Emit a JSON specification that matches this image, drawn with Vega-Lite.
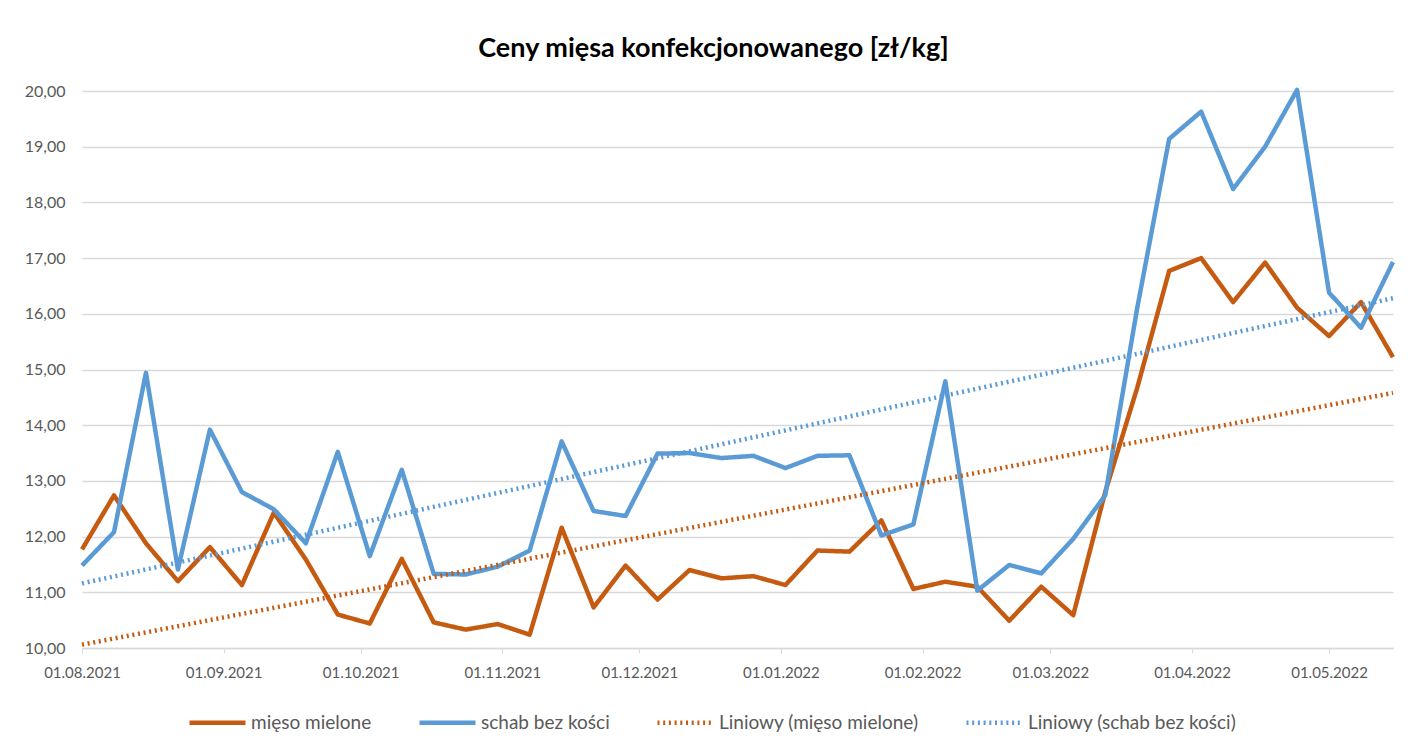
{
  "$schema": "https://vega.github.io/schema/vega-lite/v6.json",
  "autosize": {"type": "none"},
  "width": 1311,
  "height": 557,
  "padding": {"left": 82, "top": 91, "right": 29, "bottom": 97},
  "background": "white",
  "title": {"text": "Ceny mięsa konfekcjonowanego [zł/kg]", "fontSize": 27, "font": "Lato", "fontWeight": "bold", "color": "#000000", "anchor": "middle", "offset": 20, "dx": -24},
  "data": {"values": [
    {"date": "2021/08/01", "series": "mięso mielone", "value": 11.77},
    {"date": "2021/08/08", "series": "mięso mielone", "value": 12.74},
    {"date": "2021/08/15", "series": "mięso mielone", "value": 11.88},
    {"date": "2021/08/22", "series": "mięso mielone", "value": 11.20},
    {"date": "2021/08/29", "series": "mięso mielone", "value": 11.81},
    {"date": "2021/09/05", "series": "mięso mielone", "value": 11.13},
    {"date": "2021/09/12", "series": "mięso mielone", "value": 12.43},
    {"date": "2021/09/19", "series": "mięso mielone", "value": 11.59},
    {"date": "2021/09/26", "series": "mięso mielone", "value": 10.60},
    {"date": "2021/10/03", "series": "mięso mielone", "value": 10.44},
    {"date": "2021/10/10", "series": "mięso mielone", "value": 11.60},
    {"date": "2021/10/17", "series": "mięso mielone", "value": 10.46},
    {"date": "2021/10/24", "series": "mięso mielone", "value": 10.33},
    {"date": "2021/10/31", "series": "mięso mielone", "value": 10.43},
    {"date": "2021/11/07", "series": "mięso mielone", "value": 10.24},
    {"date": "2021/11/14", "series": "mięso mielone", "value": 12.16},
    {"date": "2021/11/21", "series": "mięso mielone", "value": 10.73},
    {"date": "2021/11/28", "series": "mięso mielone", "value": 11.48},
    {"date": "2021/12/05", "series": "mięso mielone", "value": 10.87},
    {"date": "2021/12/12", "series": "mięso mielone", "value": 11.40},
    {"date": "2021/12/19", "series": "mięso mielone", "value": 11.25},
    {"date": "2021/12/26", "series": "mięso mielone", "value": 11.29},
    {"date": "2022/01/02", "series": "mięso mielone", "value": 11.13},
    {"date": "2022/01/09", "series": "mięso mielone", "value": 11.75},
    {"date": "2022/01/16", "series": "mięso mielone", "value": 11.73},
    {"date": "2022/01/23", "series": "mięso mielone", "value": 12.29},
    {"date": "2022/01/30", "series": "mięso mielone", "value": 11.06},
    {"date": "2022/02/06", "series": "mięso mielone", "value": 11.19},
    {"date": "2022/02/13", "series": "mięso mielone", "value": 11.10},
    {"date": "2022/02/20", "series": "mięso mielone", "value": 10.49},
    {"date": "2022/02/27", "series": "mięso mielone", "value": 11.10},
    {"date": "2022/03/06", "series": "mięso mielone", "value": 10.59},
    {"date": "2022/03/13", "series": "mięso mielone", "value": 12.80},
    {"date": "2022/03/20", "series": "mięso mielone", "value": 14.67},
    {"date": "2022/03/27", "series": "mięso mielone", "value": 16.77},
    {"date": "2022/04/03", "series": "mięso mielone", "value": 17.00},
    {"date": "2022/04/10", "series": "mięso mielone", "value": 16.21},
    {"date": "2022/04/17", "series": "mięso mielone", "value": 16.92},
    {"date": "2022/04/24", "series": "mięso mielone", "value": 16.11},
    {"date": "2022/05/01", "series": "mięso mielone", "value": 15.60},
    {"date": "2022/05/08", "series": "mięso mielone", "value": 16.21},
    {"date": "2022/05/15", "series": "mięso mielone", "value": 15.22},
    {"date": "2021/08/01", "series": "schab bez kości", "value": 11.48},
    {"date": "2021/08/08", "series": "schab bez kości", "value": 12.08},
    {"date": "2021/08/15", "series": "schab bez kości", "value": 14.94},
    {"date": "2021/08/22", "series": "schab bez kości", "value": 11.41},
    {"date": "2021/08/29", "series": "schab bez kości", "value": 13.92},
    {"date": "2021/09/05", "series": "schab bez kości", "value": 12.80},
    {"date": "2021/09/12", "series": "schab bez kości", "value": 12.49},
    {"date": "2021/09/19", "series": "schab bez kości", "value": 11.88},
    {"date": "2021/09/26", "series": "schab bez kości", "value": 13.52},
    {"date": "2021/10/03", "series": "schab bez kości", "value": 11.65},
    {"date": "2021/10/10", "series": "schab bez kości", "value": 13.20},
    {"date": "2021/10/17", "series": "schab bez kości", "value": 11.33},
    {"date": "2021/10/24", "series": "schab bez kości", "value": 11.32},
    {"date": "2021/10/31", "series": "schab bez kości", "value": 11.46},
    {"date": "2021/11/07", "series": "schab bez kości", "value": 11.75},
    {"date": "2021/11/14", "series": "schab bez kości", "value": 13.71},
    {"date": "2021/11/21", "series": "schab bez kości", "value": 12.46},
    {"date": "2021/11/28", "series": "schab bez kości", "value": 12.37},
    {"date": "2021/12/05", "series": "schab bez kości", "value": 13.49},
    {"date": "2021/12/12", "series": "schab bez kości", "value": 13.50},
    {"date": "2021/12/19", "series": "schab bez kości", "value": 13.41},
    {"date": "2021/12/26", "series": "schab bez kości", "value": 13.45},
    {"date": "2022/01/02", "series": "schab bez kości", "value": 13.23},
    {"date": "2022/01/09", "series": "schab bez kości", "value": 13.45},
    {"date": "2022/01/16", "series": "schab bez kości", "value": 13.46},
    {"date": "2022/01/23", "series": "schab bez kości", "value": 12.02},
    {"date": "2022/01/30", "series": "schab bez kości", "value": 12.22},
    {"date": "2022/02/06", "series": "schab bez kości", "value": 14.79},
    {"date": "2022/02/13", "series": "schab bez kości", "value": 11.03},
    {"date": "2022/02/20", "series": "schab bez kości", "value": 11.49},
    {"date": "2022/02/27", "series": "schab bez kości", "value": 11.34},
    {"date": "2022/03/06", "series": "schab bez kości", "value": 11.96},
    {"date": "2022/03/13", "series": "schab bez kości", "value": 12.74},
    {"date": "2022/03/20", "series": "schab bez kości", "value": 16.10},
    {"date": "2022/03/27", "series": "schab bez kości", "value": 19.14},
    {"date": "2022/04/03", "series": "schab bez kości", "value": 19.63},
    {"date": "2022/04/10", "series": "schab bez kości", "value": 18.24},
    {"date": "2022/04/17", "series": "schab bez kości", "value": 19.00},
    {"date": "2022/04/24", "series": "schab bez kości", "value": 20.02},
    {"date": "2022/05/01", "series": "schab bez kości", "value": 16.38},
    {"date": "2022/05/08", "series": "schab bez kości", "value": 15.75},
    {"date": "2022/05/15", "series": "schab bez kości", "value": 16.93},
    {"date": "2021/08/01", "series": "Liniowy (mięso mielone)", "value": 10.06},
    {"date": "2022/05/15", "series": "Liniowy (mięso mielone)", "value": 14.58},
    {"date": "2021/08/01", "series": "Liniowy (schab bez kości)", "value": 11.16},
    {"date": "2022/05/15", "series": "Liniowy (schab bez kości)", "value": 16.28}
  ]},
  "mark": {"type": "line", "clip": false, "strokeJoin": "round"},
  "encoding": {
    "x": {
      "field": "date", "type": "temporal",
      "scale": {"domain": [{"year": 2021, "month": 8, "date": 1}, {"year": 2022, "month": 5, "date": 15}], "nice": false},
      "axis": {"title": null, "format": "%d.%m.%Y", "tickCount": {"interval": "month", "step": 1}, "grid": false, "domainColor": "#d9d9d9", "domainWidth": 1.3, "tickColor": "#d9d9d9", "tickSize": 5, "labelPadding": 12, "labelFont": "Lato", "labelFontSize": 15, "labelColor": "#595959", "labelOverlap": false, "labelFlush": false}
    },
    "y": {
      "field": "value", "type": "quantitative",
      "scale": {"domain": [10, 20], "nice": false, "zero": false},
      "axis": {"title": null, "values": [10, 11, 12, 13, 14, 15, 16, 17, 18, 19, 20], "labelOverlap": false, "labelExpr": "replace(format(datum.value, '.2f'), '.', ',')", "domain": false, "ticks": false, "gridColor": "#d9d9d9", "gridWidth": 1.3, "labelPadding": 17, "labelFont": "Lato", "labelFontSize": 16, "labelColor": "#595959"}
    },
    "color": {
      "field": "series", "type": "nominal",
      "scale": {"domain": ["mięso mielone", "schab bez kości", "Liniowy (mięso mielone)", "Liniowy (schab bez kości)"], "range": ["#C55A11", "#5B9BD5", "#C55A11", "#5B9BD5"]},
      "legend": {"title": null, "orient": "none", "legendX": 105, "legendY": 601, "direction": "horizontal", "symbolType": "stroke", "symbolSize": 3136, "labelFont": "Lato", "labelFontSize": 19, "labelColor": "#595959", "labelLimit": 500, "columnPadding": 38, "labelOffset": 3, "padding": 0}
    },
    "strokeDash": {
      "field": "series", "type": "nominal",
      "scale": {"domain": ["mięso mielone", "schab bez kości", "Liniowy (mięso mielone)", "Liniowy (schab bez kości)"], "range": [[1, 0], [1, 0], [2, 3.7], [2, 3.7]]},
      "legend": {"title": null, "orient": "none", "legendX": 105, "legendY": 601, "direction": "horizontal", "symbolType": "stroke", "symbolSize": 3136, "labelFont": "Lato", "labelFontSize": 19, "labelColor": "#595959", "labelLimit": 500, "columnPadding": 38, "labelOffset": 3, "padding": 0}
    },
    "strokeWidth": {
      "field": "series", "type": "nominal",
      "scale": {"domain": ["mięso mielone", "schab bez kości", "Liniowy (mięso mielone)", "Liniowy (schab bez kości)"], "range": [4.5, 4.5, 2, 2]},
      "legend": {"title": null, "orient": "none", "legendX": 105, "legendY": 601, "direction": "horizontal", "symbolType": "stroke", "symbolSize": 3136, "labelFont": "Lato", "labelFontSize": 19, "labelColor": "#595959", "labelLimit": 500, "columnPadding": 38, "labelOffset": 3, "padding": 0}
    }
  },
  "config": {"view": {"stroke": null}}
}
